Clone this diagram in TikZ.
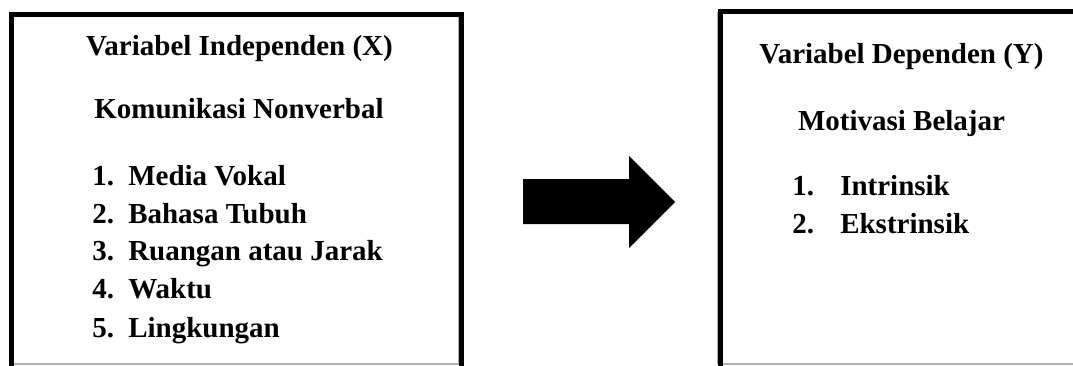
\documentclass[tikz,border=0pt]{standalone}
\usepackage{fontspec}
\setmainfont{Liberation Serif}
\definecolor{edgegray}{RGB}{175,175,175}
\tikzset{
  thickedge/.style={line width=3.75pt, black, line cap=rect},
  thinedge/.style={line width=0.9pt, edgegray},
  txt/.style={inner sep=0pt, font=\fontsize{21.75}{26}\selectfont\bfseries},
  listitem/.style={txt, anchor=base west},
  title/.style={txt, anchor=base},
}
\begin{document}
\begin{tikzpicture}[x=0.75pt, y=-0.75pt]
\useasboundingbox (0,0) rectangle (1073,365);
% left box
\draw[thinedge] (11,364) -- (462,364);
\draw[thinedge] (459,14) -- (459,364);
\draw[thickedge] (11.5,366) -- (11.5,14.5) -- (461.5,14.5) -- (461.5,366);
% right box
\draw[thinedge] (718,364) -- (1073,364);
\draw[thinedge] (718,12) -- (718,364);
\draw[thickedge] (720.5,366) -- (720.5,11.5) -- (1080,11.5);
% arrow
\fill[black] (523,179) -- (629,179) -- (629,156) -- (675,202) -- (629,248) -- (629,224) -- (523,224) -- cycle;
% left texts
\node[title] (ltitle) at (239.5,55) {Variabel Independen (X)};
\node[title] (lsub) at (239,118) {Komunikasi Nonverbal};
\node[listitem] (l1) at (92,185) {\makebox[27pt][l]{1.}Media Vokal};
\node[listitem] (l2) at (92,223) {\makebox[27pt][l]{2.}Bahasa Tubuh};
\node[listitem] (l3) at (92,260.5) {\makebox[27pt][l]{3.}Ruangan atau Jarak};
\node[listitem] (l4) at (92,298.5) {\makebox[27pt][l]{4.}Waktu};
\node[listitem] (l5) at (92,337) {\makebox[27pt][l]{5.}Lingkungan};
% right texts
\node[title] (rtitle) at (901.5,63) {Variabel Dependen (Y)};
\node[title] (rsub) at (901.5,130) {Motivasi Belajar};
\node[listitem] (r1) at (792,195) {\makebox[36pt][l]{1.}Intrinsik};
\node[listitem] (r2) at (792,233) {\makebox[36pt][l]{2.}Ekstrinsik};
\end{tikzpicture}
\end{document}
